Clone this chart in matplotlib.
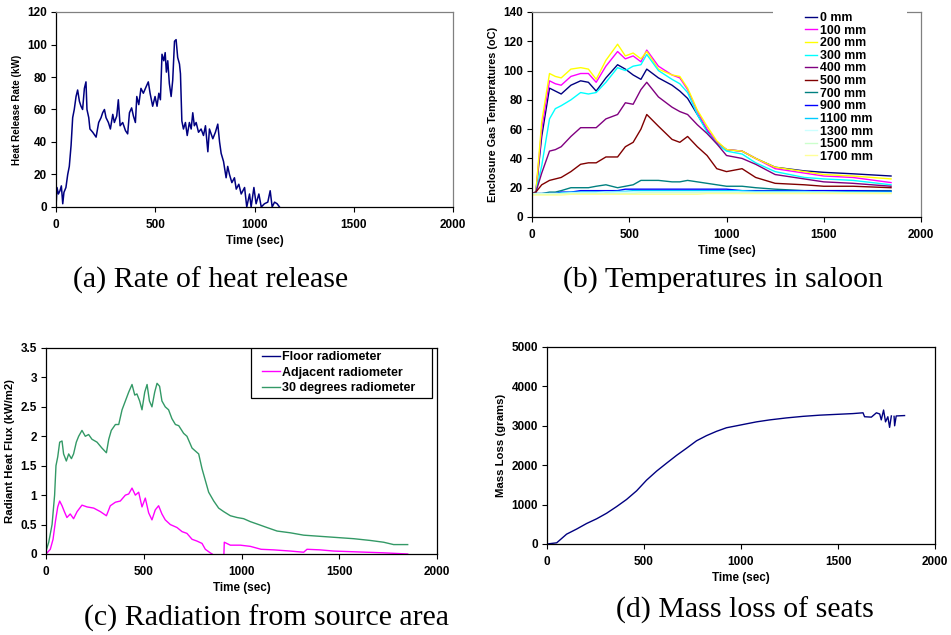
import numpy as np
import matplotlib
matplotlib.use("Agg")
import matplotlib.pyplot as plt
from matplotlib.patches import Rectangle
from matplotlib.ticker import FuncFormatter

plt.rcParams['font.family'] = ['Liberation Sans', 'DejaVu Sans']
plt.rcParams['font.weight'] = 'bold'
plt.rcParams['axes.labelweight'] = 'bold'

# (a) heat release rate
t_a = [0, 5, 12, 20, 27, 34, 40, 50, 59, 67, 76, 84, 92, 101, 109, 118, 126, 134, 143, 151,
       156, 165, 171, 185, 202, 215, 227, 235, 244, 252, 264, 274, 286, 294, 306, 314, 323,
       336, 350, 361, 370, 381, 390, 400, 407, 417, 428, 440, 454, 465, 474, 487, 499, 509,
       518, 526, 534, 543, 550, 556, 563, 571, 580, 588, 597, 605, 613, 622, 627, 634, 642,
       652, 661, 672, 681, 689, 697, 706, 718, 731, 743, 753, 765, 773, 790, 803, 815, 824,
       832, 844, 857, 865, 874, 886, 899, 908, 921, 933, 950, 961, 975, 983, 997, 1008, 1022,
       1034, 1050, 1067, 1079, 1089, 1101, 1114, 1126]
hrr = [0, 12, 8, 10, 13, 2, 9, 12, 20, 25, 38, 55, 60, 68, 72, 65, 62, 60, 73, 77,
       60, 55, 48, 46, 43, 52, 55, 58, 60, 55, 52, 48, 57, 52, 56, 66, 50,
       52, 47, 45, 58, 61, 56, 52, 68, 63, 73, 70, 74, 77, 70, 62, 68, 62,
       70, 66, 94, 90, 95, 83, 90, 76, 68, 78, 102, 103, 92, 88, 82, 53, 48,
       52, 44, 52, 48, 58, 50, 52, 46, 48, 44, 50, 34, 48, 42, 46, 51, 40,
       33, 28, 18, 25, 20, 15, 18, 11, 14, 8, 12, 0, 8, 0, 12, 2, 8,
       0, 2, 3, 10, 0, 3, 2, 0]

# (b) enclosure gas temperatures
t_b = [0, 20, 50, 90, 120, 150, 200, 250, 290, 330, 380, 440, 480, 520, 560, 590, 650, 720,
       760, 800, 850, 900, 950, 1000, 1080, 1150, 1250, 1400, 1500, 1650, 1846]
temp_labels = ['0 mm', '100 mm', '200 mm', '300 mm', '400 mm', '500 mm', '700 mm',
               '900 mm', '1100 mm', '1300 mm', '1500 mm', '1700 mm']
temp_colors = ['#000080', '#FF00FF', '#FFFF00', '#00FFFF', '#800080', '#800000', '#008080',
               '#0000FF', '#00CCFF', '#CCFFFF', '#CCFFCC', '#FFFF99']
temp_0 = [16, 17, 55, 88, 86, 84, 90, 93, 92, 86, 95, 104, 101, 97, 94, 101, 95, 90, 86, 81,
          70, 59, 51, 46, 45, 40, 34, 31.5, 30.5, 29.5, 28]
temp_100 = [16, 17, 60, 93, 91, 90, 96, 98, 98, 92, 103, 113, 108, 110, 106, 114, 103, 97, 95,
            87, 72, 60, 51, 46, 45, 40, 33, 30, 28, 27, 23.5]
temp_200 = [16, 17, 65, 98, 96, 95, 101, 102, 101, 94, 107, 118, 110, 112, 108, 113, 101, 97,
            96, 88, 73, 62, 52, 46, 45, 40, 34, 31, 29, 28, 26]
temp_300 = [16, 17, 35, 67, 74, 76, 80, 85, 84, 85, 92, 102, 100, 103, 104, 111, 100, 94, 91,
            85, 70, 58, 50, 45, 43, 37, 31, 27, 26, 25, 22]
temp_400 = [16, 17, 30, 45, 46, 48, 55, 61, 61, 61, 67, 70, 78, 77, 87, 92, 82, 75, 72, 70,
            63, 57, 50, 42, 40, 36, 29, 26, 24, 23, 21]
temp_500 = [16, 17, 22, 25, 26, 27, 31, 36, 37, 37, 41, 41, 48, 51, 60, 70, 62, 53, 51, 55,
            48, 42, 33, 31, 33, 27, 23, 22, 21, 21, 20]
temp_700 = [16, 16, 16, 17, 17, 18, 20, 20, 20, 21, 22, 20, 21, 22, 25, 25, 25, 24, 24, 25,
            24, 23, 22, 21, 21, 20, 19, 18, 18, 18, 18]
temp_900 = [16, 16, 16, 16, 16, 17, 17, 18, 18, 18, 18, 18, 19, 19, 19, 19, 19, 19, 19, 19,
            19, 19, 19, 19, 18, 18, 18, 18, 18, 18, 17.5]
temp_1100 = [15.5, 16, 16, 16, 16, 16.5, 17, 17, 17, 17, 17, 17.5, 17.5, 18, 18, 18, 18, 18,
             18, 18, 18, 18, 18, 18, 18, 17.5, 17.5, 17.5, 17, 17, 17]
temp_1300 = [16, 16, 16, 16, 16, 16, 16.5, 16.5, 16.5, 16.5, 17, 17, 17, 17, 17, 17, 17, 17,
             17, 17, 17, 17, 17, 17, 17, 17, 17, 17, 17, 16.5, 16.5]
temp_1500 = [15.5, 15.5, 15.5, 15.5, 15.5, 16, 16, 16, 16, 16, 16, 16, 16, 16, 16.5, 16.5,
             16.5, 16.5, 16.5, 16.5, 16.5, 16.5, 16.5, 16.5, 16.5, 16.5, 16.5, 16.5, 16.5, 16.5, 16.5]
temp_1700 = [15, 15, 15, 15, 15, 15, 15.5, 15.5, 15.5, 15.5, 15.5, 15.5, 15.5, 15.5, 15.5, 15.5,
             15.5, 15.5, 15.5, 15.5, 15.5, 16, 16, 16, 16, 16, 16, 16, 16, 16, 16]
temp_series = [temp_0, temp_100, temp_200, temp_300, temp_400, temp_500, temp_700, temp_900,
               temp_1100, temp_1300, temp_1500, temp_1700]

# (c) radiant heat flux
t_green = [0, 14, 31, 44, 51, 60, 70, 82, 90, 104, 116, 130, 141, 155, 167, 184, 201, 218, 235,
           261, 286, 309, 321, 334, 355, 372, 389, 406, 423, 440, 454, 465, 479, 491, 505, 517,
           529, 542, 556, 568, 581, 593, 610, 627, 644, 662, 679, 704, 721, 747, 764, 781, 798,
           815, 832, 858, 883, 909, 943, 977, 1011, 1045, 1088, 1130, 1182, 1250, 1318, 1403,
           1489, 1574, 1659, 1727, 1778, 1850]
flux_green = [0.05, 0.2, 0.5, 1.0, 1.5, 1.65, 1.9, 1.92, 1.7, 1.58, 1.7, 1.62, 1.7, 1.9, 2.0,
              2.1, 2.0, 2.03, 1.95, 1.9, 1.8, 1.72, 1.95, 2.1, 2.2, 2.2, 2.45, 2.6, 2.75, 2.88,
              2.7, 2.72, 2.6, 2.45, 2.75, 2.88, 2.6, 2.5, 2.75, 2.9, 2.85, 2.6, 2.5, 2.45, 2.3,
              2.2, 2.18, 2.05, 2.0, 1.8, 1.75, 1.7, 1.45, 1.25, 1.05, 0.9, 0.78, 0.72, 0.65,
              0.62, 0.6, 0.55, 0.5, 0.45, 0.39, 0.36, 0.32, 0.3, 0.28, 0.26, 0.23, 0.2, 0.16, 0.16]
t_mag = [0, 22, 36, 48, 60, 70, 82, 94, 107, 124, 141, 159, 184, 210, 244, 278, 309, 329, 355,
         380, 406, 423, 440, 457, 474, 491, 508, 525, 542, 559, 576, 593, 610, 636, 670, 696,
         721, 747, 772, 798, 815, 840, 850, 880, 910, 912, 943, 994, 1045, 1100, 1165, 1250,
         1318, 1335, 1403, 1471, 1557, 1640, 1727, 1850]
flux_mag = [0, 0.08, 0.25, 0.55, 0.8, 0.9, 0.82, 0.72, 0.62, 0.68, 0.6, 0.72, 0.83, 0.8, 0.78,
            0.72, 0.65, 0.82, 0.88, 0.9, 1.0, 1.02, 1.12, 1.0, 1.05, 0.8, 0.95, 0.7, 0.58, 0.75,
            0.82, 0.68, 0.58, 0.5, 0.45, 0.38, 0.35, 0.25, 0.22, 0.18, 0.08, 0.02, 0.0, np.nan,
            0.0, 0.2, 0.15, 0.15, 0.13, 0.08, 0.07, 0.05, 0.03, 0.08, 0.07, 0.05, 0.04, 0.03,
            0.02, 0.0]
t_floor = []
flux_floor = []

# (d) mass loss
t_d = [0, 50, 101, 153, 204, 256, 307, 359, 410, 462, 513, 565, 616, 668, 719, 771, 822, 874,
       925, 977, 1028, 1080, 1148, 1234, 1320, 1406, 1491, 1577, 1629, 1637, 1672, 1698, 1715,
       1723, 1735, 1745, 1757, 1766, 1775, 1782, 1789, 1792, 1800, 1843]
mass = [0, 30, 250, 380, 520, 640, 780, 950, 1130, 1350, 1620, 1850, 2050, 2250, 2430, 2620,
        2750, 2860, 2950, 3000, 3050, 3100, 3150, 3200, 3240, 3270, 3290, 3310, 3330, 3230,
        3220, 3330, 3300, 3150, 3400, 3100, 3230, 2960, 3250, np.nan, 3240, 3000, 3250, 3260]

captions = ['(a) Rate of heat release', '(b) Temperatures in saloon',
            '(c) Radiation from source area', '(d) Mass loss of seats']

fig = plt.figure(figsize=(9.51, 6.35), dpi=100)
W, H = 951, 635


def px_axes(l, t, r, b):
    return fig.add_axes([l / W, 1 - b / H, (r - l) / W, (b - t) / H])


def style(ax, ymax, ystep, grey_box):
    ax.set_xlim(0, 2000)
    ax.set_ylim(0, ymax)
    ax.set_xticks(np.arange(0, 2001, 500))
    ax.set_yticks(np.arange(0, ymax + ystep / 2, ystep))
    ax.yaxis.set_major_formatter(FuncFormatter(lambda v, p: '%g' % v))
    ax.tick_params(direction='out', length=3.5, width=0.8, labelsize=8.5, pad=3)
    ax.tick_params(axis='x', pad=5)
    for s in ax.spines.values():
        s.set_linewidth(0.9)
        s.set_color('black')
    if grey_box:
        ax.spines['top'].set_color('#808080')
        ax.spines['right'].set_color('#808080')


ax_a = px_axes(56, 12, 453, 207)
style(ax_a, 120, 20, True)
ax_a.plot(t_a, hrr, color='#000080', lw=1.1)
ax_a.set_xlabel('Time (sec)', fontsize=8.4, labelpad=3)
ax_a.set_ylabel('Heat Release Rate (kW)', fontsize=7.1, labelpad=4)

ax_b = px_axes(532, 12, 921, 217)
style(ax_b, 140, 20, True)
for vals, lab, col in zip(temp_series, temp_labels, temp_colors):
    ax_b.plot(t_b, vals, color=col, lw=1.0, label=lab)
ax_b.set_xlabel('Time (sec)', fontsize=8.4, labelpad=3)
ax_b.set_ylabel('Enclosure Gas Temperatures (oC)', fontsize=7.8, labelpad=4)
ax_b.add_patch(Rectangle((0.6195, 0.97), 0.345, 0.06, transform=ax_b.transAxes,
                         facecolor='white', edgecolor='none', clip_on=False, zorder=3))
ax_b.legend(loc='upper left', bbox_to_anchor=((805 - 532) / 389, 1.0), frameon=False,
            fontsize=8.9, labelspacing=0.05, handlelength=1.0, handletextpad=0.2,
            borderpad=0.0, borderaxespad=0.0)

ax_c = px_axes(46, 348, 437, 554)
style(ax_c, 3.5, 0.5, False)
ax_c.plot(t_floor, flux_floor, color='#000080', lw=1.0, label='Floor radiometer')
ax_c.plot(t_mag, flux_mag, color='#FF00FF', lw=1.0, label='Adjacent radiometer')
ax_c.plot(t_green, flux_green, color='#339966', lw=1.0, label='30 degrees radiometer')
ax_c.set_xlabel('Time (sec)', fontsize=8.4, labelpad=3)
ax_c.set_ylabel('Radiant Heat Flux (kW/m2)', fontsize=8.2, labelpad=4)
ax_c.add_patch(Rectangle(((251 - 46) / 391, (554 - 398) / 206), (432 - 251) / 391, 50 / 206,
                         transform=ax_c.transAxes, facecolor='white', edgecolor='black',
                         lw=0.9, zorder=3))
ax_c.legend(loc='upper left', bbox_to_anchor=((262 - 46) / 391, 1 - 3 / 206), frameon=False,
            fontsize=9, labelspacing=0.3, handlelength=1.4, handletextpad=0.2,
            borderpad=0.0, borderaxespad=0.0).set_zorder(4)

ax_d = px_axes(547, 347, 935, 544)
style(ax_d, 5000, 1000, False)
ax_d.plot(t_d, mass, color='#000080', lw=1.0)
ax_d.set_xlabel('Time (sec)', fontsize=8.4, labelpad=3)
ax_d.set_ylabel('Mass Loss (grams)', fontsize=8.2, labelpad=4)

cap_pos = [(211, 280), (723, 280), (267, 618), (745, 610)]
for (cx, cy), txt in zip(cap_pos, captions):
    fig.text(cx / W, 1 - cy / H, txt, ha='center', va='center', fontsize=21.5,
             family='Liberation Serif', fontweight='normal')

fig.savefig('out.png', dpi=100, facecolor='white')
